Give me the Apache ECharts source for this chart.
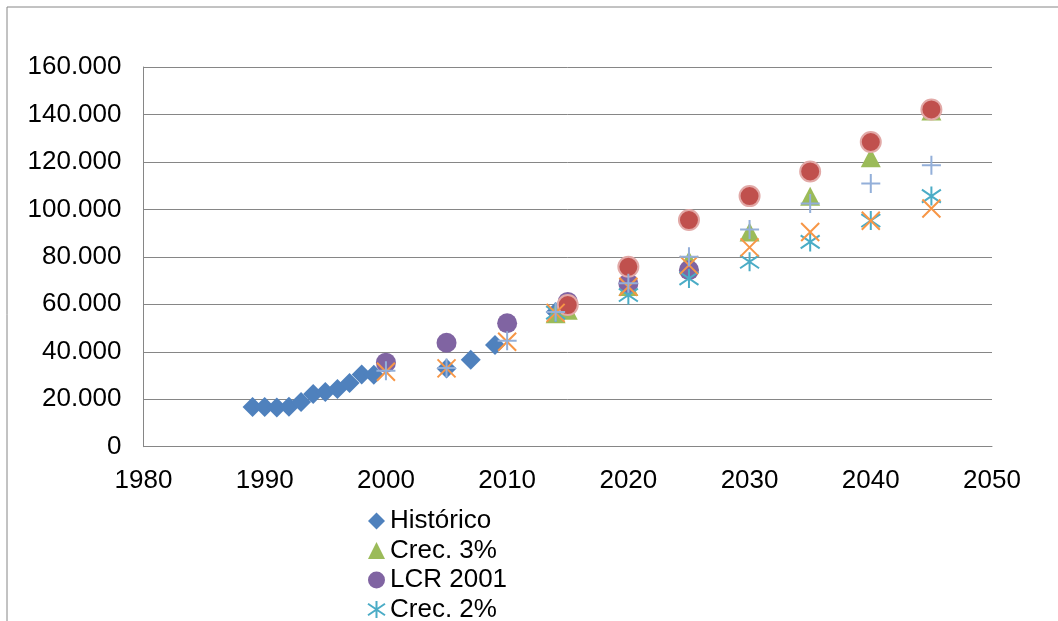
<!DOCTYPE html>
<html>
<head>
<meta charset="utf-8">
<script src="https://cdn.jsdelivr.net/npm/echarts@6/dist/echarts.min.js"></script>
<style>
  html, body { margin: 0; padding: 0; background: #fff; }
  #chart { width: 1058px; height: 621px; }
</style>
</head>
<body>
<div id="chart"></div>
<script>
// Historical demand (yearly records)
const histYears = [1989, 1990, 1991, 1992, 1993, 1994, 1995, 1996, 1997, 1998, 1999, 2005, 2007, 2009, 2014];
const histValues = [16700, 16700, 16500, 16800, 18800, 22200, 23100, 24300, 26800, 30400, 30300, 33000, 36600, 42900, 56800];

// Projection years shared by the scenario series
const projYears = [2000, 2005, 2010, 2014, 2015, 2020, 2025, 2030, 2035, 2040, 2045];
const crec3Values = [null, null, null, 56000, 57500, 67500, 78500, 90500, 105500, 121800, 141500];
const lcr2001Values = [35400, 43800, 52000, null, 61000, 68800, 74400, null, null, null, null];
const crec2Values = [null, null, null, 56500, null, 63900, 70900, 77900, 86300, 95300, 105600];
const serie5Values = [null, null, null, null, 59700, 75800, 95500, 105600, 116000, 128400, 142100];
const serie6Values = [31600, 33000, 44200, 56400, null, 67400, 76500, 84000, 90500, 95200, 100400];
const serie7Values = [32000, 33200, 44600, 56800, null, 68900, 80000, 91500, 102500, 110900, 118600];

// Axis ticks
const xTicks = { min: 1980, max: 2050, step: 10 };
const yTicks = { min: 0, max: 160000, step: 20000 };

const legendNames = ['Histórico', 'Crec. 3%', 'LCR 2001', 'Crec. 2%'];

const FONT = '"Liberation Sans", Arial, sans-serif';
const AXIS_GRAY = '#868686';

function pairs(xs, ys) {
  const out = [];
  xs.forEach((x, i) => { if (ys[i] != null) out.push([x, ys[i]]); });
  return out;
}

function thousands(v) {
  return String(v).replace(/\B(?=(\d{3})+(?!\d))/g, '.');
}

const SYM_X = 'path://M0,0L10,10M10,0L0,10';
const SYM_STAR = 'path://M5,0L5,10M0,1.6L10,8.4M10,1.6L0,8.4';
const SYM_PLUS = 'path://M5,0L5,10M0,5L10,5';

const chart = echarts.init(document.getElementById('chart'), null, { renderer: 'canvas' });

chart.setOption({
  animation: false,
  backgroundColor: '#fff',
  textStyle: { fontFamily: FONT },
  graphic: [{
    type: 'rect',
    shape: { x: 7, y: 7, width: 1200, height: 800 },
    style: { fill: 'none', stroke: AXIS_GRAY, lineWidth: 1 },
    silent: true
  }],
  grid: { left: 143.5, right: 66, top: 67, bottom: 174.3, containLabel: false },
  xAxis: {
    type: 'value',
    min: xTicks.min, max: xTicks.max, interval: xTicks.step,
    axisLine: { show: true, lineStyle: { color: AXIS_GRAY, width: 1 } },
    axisTick: { show: false },
    splitLine: { show: false },
    axisLabel: { color: '#000', fontSize: 26, fontFamily: FONT, margin: 21, formatter: (v) => String(v) }
  },
  yAxis: {
    type: 'value',
    min: yTicks.min, max: yTicks.max, interval: yTicks.step,
    axisLine: { show: true, lineStyle: { color: AXIS_GRAY, width: 1 } },
    axisTick: { show: false },
    splitLine: { show: true, lineStyle: { color: AXIS_GRAY, width: 1 } },
    axisLabel: { color: '#000', fontSize: 26, fontFamily: FONT, margin: 22, formatter: thousands }
  },
  legend: {
    data: legendNames,
    orient: 'vertical',
    left: 367,
    top: 508,
    height: 140,
    padding: 0,
    itemWidth: 17,
    itemHeight: 17,
    itemGap: 3.5,
    textStyle: { color: '#000', fontSize: 26, lineHeight: 26, fontFamily: FONT },
    selectedMode: false
  },
  series: [
    {
      name: 'Histórico', type: 'scatter', symbol: 'diamond', symbolSize: 20,
      itemStyle: { color: '#4F81BD', opacity: 1 },
      data: pairs(histYears, histValues)
    },
    {
      name: 'Crec. 3%', type: 'scatter', symbol: 'triangle', symbolSize: [20, 19],
      itemStyle: { color: '#9BBB59', opacity: 1 },
      data: pairs(projYears, crec3Values)
    },
    {
      name: 'LCR 2001', type: 'scatter', symbol: 'circle', symbolSize: 20,
      itemStyle: { color: '#8064A2', opacity: 1 },
      data: pairs(projYears, lcr2001Values)
    },
    {
      name: 'Crec. 2%', type: 'scatter', symbol: SYM_STAR, symbolSize: 19,
      itemStyle: { color: 'rgba(0,0,0,0)', borderColor: '#4BACC6', borderWidth: 2, opacity: 1 },
      data: pairs(projYears, crec2Values)
    },
    {
      name: 'Serie 5', type: 'scatter', symbol: 'circle', symbolSize: 20,
      itemStyle: { color: '#C0504D', borderColor: '#E2A9A7', borderWidth: 2, opacity: 1 },
      data: pairs(projYears, serie5Values)
    },
    {
      name: 'Serie 6', type: 'scatter', symbol: SYM_X, symbolSize: 18,
      itemStyle: { color: 'rgba(0,0,0,0)', borderColor: '#F79646', borderWidth: 2, opacity: 1 },
      data: pairs(projYears, serie6Values)
    },
    {
      name: 'Serie 7', type: 'scatter', symbol: SYM_PLUS, symbolSize: 19,
      itemStyle: { color: 'rgba(0,0,0,0)', borderColor: '#93AFD9', borderWidth: 2, opacity: 1 },
      data: pairs(projYears, serie7Values)
    }
  ]
});
</script>
</body>
</html>
